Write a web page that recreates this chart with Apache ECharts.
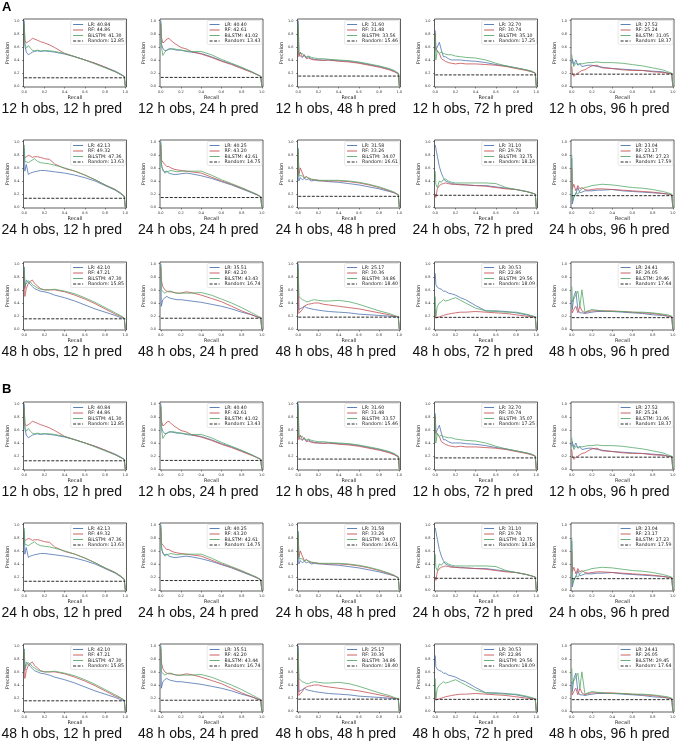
<!DOCTYPE html>
<html>
<head>
<meta charset="utf-8">
<script src="https://cdn.jsdelivr.net/npm/echarts@6/dist/echarts.min.js"></script>
<style>
  html, body { margin: 0; padding: 0; background: #fff; }
  #chart { width: 680px; height: 746px; }
</style>
</head>
<body>
<div id="chart"></div>
<script>
// recall points shared by every curve (last two: end of curve and drop to 0)
var recall = [0, 0.005, 0.02, 0.04, 0.06, 0.08, 0.1, 0.13, 0.16, 0.2, 0.25, 0.3, 0.4, 0.5, 0.6, 0.7, 0.8, 0.9, 0.95, 0.99, 1, 1];
var ticks = [0, 0.2, 0.4, 0.6, 0.8, 1.0];
var obsLabels = ['12 h obs', '24 h obs', '48 h obs'];
var predLabels = ['12 h pred', '24 h pred', '48 h pred', '72 h pred', '96 h pred'];

// precision values, one array per prediction window (12, 24, 48, 72, 96 h)
var lr12 = [
  [1.0, 0.62, 0.52, 0.48, 0.50, 0.52, 0.53, 0.54, 0.53, 0.54, 0.53, 0.52, 0.49, 0.45, 0.40, 0.35, 0.29, 0.23, 0.19, 0.15, 0.13, 0],
  [1.0, 0.65, 0.58, 0.54, 0.55, 0.57, 0.57, 0.56, 0.55, 0.55, 0.53, 0.52, 0.50, 0.45, 0.39, 0.34, 0.28, 0.22, 0.18, 0.15, 0.13, 0],
  [1.0, 0.48, 0.50, 0.44, 0.47, 0.43, 0.45, 0.42, 0.41, 0.40, 0.40, 0.40, 0.39, 0.38, 0.36, 0.33, 0.30, 0.26, 0.23, 0.19, 0.16, 0],
  [0.85, 0.55, 0.60, 0.67, 0.55, 0.45, 0.45, 0.42, 0.40, 0.40, 0.40, 0.39, 0.38, 0.36, 0.33, 0.31, 0.28, 0.25, 0.23, 0.20, 0.18, 0],
  [0.35, 0.42, 0.33, 0.40, 0.32, 0.34, 0.30, 0.31, 0.32, 0.32, 0.30, 0.29, 0.27, 0.26, 0.25, 0.24, 0.23, 0.22, 0.20, 0.19, 0.18, 0]
];
var rf12 = [
  [0.93, 0.70, 0.66, 0.68, 0.70, 0.73, 0.72, 0.70, 0.68, 0.66, 0.63, 0.59, 0.50, 0.45, 0.40, 0.35, 0.29, 0.22, 0.18, 0.15, 0.13, 0],
  [0.95, 0.75, 0.66, 0.68, 0.72, 0.73, 0.70, 0.66, 0.63, 0.59, 0.57, 0.53, 0.49, 0.44, 0.38, 0.33, 0.27, 0.21, 0.18, 0.15, 0.13, 0],
  [0.90, 0.45, 0.52, 0.45, 0.48, 0.42, 0.43, 0.41, 0.40, 0.40, 0.39, 0.40, 0.38, 0.37, 0.35, 0.32, 0.29, 0.25, 0.22, 0.19, 0.16, 0],
  [0.80, 0.55, 0.58, 0.50, 0.42, 0.40, 0.38, 0.36, 0.35, 0.34, 0.35, 0.34, 0.34, 0.33, 0.32, 0.30, 0.27, 0.24, 0.22, 0.20, 0.18, 0],
  [0.30, 0.20, 0.15, 0.18, 0.20, 0.22, 0.24, 0.25, 0.28, 0.31, 0.32, 0.28, 0.27, 0.25, 0.24, 0.24, 0.22, 0.21, 0.20, 0.19, 0.18, 0]
];
var bi12 = [
  [0.95, 0.65, 0.58, 0.62, 0.58, 0.55, 0.54, 0.55, 0.54, 0.54, 0.54, 0.53, 0.50, 0.45, 0.40, 0.34, 0.28, 0.22, 0.18, 0.15, 0.13, 0],
  [0.97, 0.62, 0.47, 0.52, 0.55, 0.56, 0.57, 0.57, 0.56, 0.55, 0.54, 0.53, 0.53, 0.48, 0.41, 0.35, 0.29, 0.22, 0.18, 0.15, 0.13, 0],
  [0.95, 0.50, 0.47, 0.50, 0.46, 0.45, 0.46, 0.44, 0.43, 0.42, 0.42, 0.41, 0.40, 0.39, 0.37, 0.34, 0.31, 0.27, 0.24, 0.20, 0.16, 0],
  [0.80, 0.40, 0.55, 0.50, 0.52, 0.50, 0.49, 0.48, 0.48, 0.46, 0.45, 0.44, 0.43, 0.40, 0.35, 0.31, 0.28, 0.25, 0.23, 0.20, 0.18, 0],
  [0.48, 0.38, 0.30, 0.35, 0.33, 0.35, 0.34, 0.35, 0.36, 0.36, 0.37, 0.36, 0.36, 0.35, 0.33, 0.31, 0.28, 0.25, 0.22, 0.20, 0.18, 0]
];
var lr24 = [
  [0.90, 0.55, 0.65, 0.50, 0.52, 0.53, 0.54, 0.55, 0.56, 0.56, 0.55, 0.54, 0.52, 0.49, 0.45, 0.40, 0.33, 0.26, 0.21, 0.16, 0.14, 0],
  [1.0, 0.68, 0.56, 0.54, 0.55, 0.52, 0.51, 0.50, 0.50, 0.51, 0.52, 0.51, 0.48, 0.44, 0.39, 0.34, 0.28, 0.22, 0.19, 0.16, 0.15, 0],
  [0.90, 0.40, 0.45, 0.42, 0.44, 0.42, 0.43, 0.40, 0.41, 0.40, 0.40, 0.39, 0.38, 0.36, 0.34, 0.31, 0.28, 0.24, 0.22, 0.19, 0.17, 0],
  [0.95, 0.90, 0.78, 0.62, 0.52, 0.45, 0.40, 0.38, 0.36, 0.35, 0.35, 0.34, 0.33, 0.33, 0.31, 0.29, 0.27, 0.24, 0.22, 0.20, 0.18, 0],
  [0.75, 0.05, 0.15, 0.20, 0.30, 0.22, 0.23, 0.25, 0.25, 0.25, 0.26, 0.26, 0.27, 0.25, 0.24, 0.23, 0.22, 0.21, 0.20, 0.19, 0.18, 0]
];
var rf24 = [
  [0.75, 0.78, 0.77, 0.79, 0.78, 0.76, 0.77, 0.77, 0.76, 0.74, 0.73, 0.66, 0.59, 0.55, 0.49, 0.42, 0.34, 0.27, 0.22, 0.17, 0.14, 0],
  [0.95, 0.72, 0.70, 0.65, 0.62, 0.62, 0.60, 0.58, 0.57, 0.56, 0.55, 0.54, 0.52, 0.46, 0.40, 0.35, 0.29, 0.23, 0.19, 0.16, 0.15, 0],
  [0.85, 0.50, 0.60, 0.52, 0.45, 0.47, 0.44, 0.42, 0.42, 0.41, 0.40, 0.40, 0.40, 0.39, 0.37, 0.34, 0.30, 0.25, 0.22, 0.19, 0.17, 0],
  [0.20, 0.15, 0.28, 0.33, 0.35, 0.36, 0.37, 0.36, 0.35, 0.35, 0.34, 0.34, 0.33, 0.32, 0.30, 0.28, 0.27, 0.24, 0.22, 0.20, 0.18, 0],
  [0.60, 0.28, 0.35, 0.25, 0.33, 0.28, 0.30, 0.27, 0.26, 0.27, 0.28, 0.28, 0.27, 0.26, 0.25, 0.24, 0.23, 0.21, 0.20, 0.19, 0.18, 0]
];
var bi24 = [
  [0.95, 0.70, 0.72, 0.68, 0.70, 0.72, 0.74, 0.70, 0.68, 0.67, 0.66, 0.64, 0.60, 0.55, 0.49, 0.42, 0.34, 0.27, 0.22, 0.17, 0.14, 0],
  [0.98, 0.62, 0.58, 0.52, 0.54, 0.55, 0.56, 0.55, 0.54, 0.55, 0.55, 0.55, 0.55, 0.49, 0.42, 0.36, 0.30, 0.23, 0.20, 0.16, 0.15, 0],
  [0.88, 0.48, 0.45, 0.48, 0.44, 0.46, 0.45, 0.43, 0.42, 0.41, 0.41, 0.41, 0.41, 0.40, 0.38, 0.35, 0.31, 0.26, 0.23, 0.19, 0.17, 0],
  [0.55, 0.35, 0.30, 0.40, 0.38, 0.42, 0.43, 0.40, 0.38, 0.37, 0.37, 0.37, 0.37, 0.37, 0.36, 0.30, 0.27, 0.24, 0.22, 0.20, 0.18, 0],
  [0.80, 0.10, 0.15, 0.22, 0.20, 0.25, 0.28, 0.30, 0.31, 0.33, 0.34, 0.35, 0.34, 0.32, 0.30, 0.29, 0.27, 0.24, 0.22, 0.20, 0.18, 0]
];
var lr48 = [
  [0.95, 0.62, 0.75, 0.72, 0.68, 0.65, 0.62, 0.60, 0.58, 0.57, 0.55, 0.52, 0.48, 0.43, 0.37, 0.31, 0.26, 0.21, 0.18, 0.16, 0.16, 0],
  [1.0, 0.35, 0.45, 0.48, 0.50, 0.48, 0.47, 0.46, 0.45, 0.45, 0.44, 0.43, 0.41, 0.38, 0.35, 0.31, 0.26, 0.22, 0.19, 0.17, 0.17, 0],
  [1.0, 0.30, 0.28, 0.33, 0.35, 0.33, 0.32, 0.31, 0.30, 0.29, 0.28, 0.27, 0.26, 0.25, 0.23, 0.22, 0.21, 0.20, 0.19, 0.19, 0.18, 0],
  [0.85, 0.68, 0.64, 0.62, 0.61, 0.58, 0.58, 0.55, 0.54, 0.52, 0.48, 0.45, 0.36, 0.28, 0.28, 0.27, 0.25, 0.22, 0.20, 0.19, 0.18, 0],
  [0.45, 0.30, 0.50, 0.58, 0.30, 0.25, 0.25, 0.24, 0.25, 0.26, 0.27, 0.27, 0.27, 0.26, 0.25, 0.24, 0.22, 0.21, 0.20, 0.19, 0.18, 0]
];
var rf48 = [
  [0.90, 0.50, 0.62, 0.70, 0.73, 0.75, 0.70, 0.66, 0.62, 0.60, 0.60, 0.60, 0.57, 0.52, 0.46, 0.39, 0.31, 0.23, 0.20, 0.17, 0.16, 0],
  [0.95, 0.75, 0.65, 0.60, 0.58, 0.57, 0.57, 0.56, 0.55, 0.55, 0.57, 0.56, 0.52, 0.47, 0.42, 0.35, 0.28, 0.22, 0.19, 0.17, 0.17, 0],
  [0.90, 0.24, 0.22, 0.30, 0.35, 0.37, 0.38, 0.39, 0.40, 0.40, 0.38, 0.37, 0.35, 0.33, 0.31, 0.28, 0.25, 0.22, 0.20, 0.19, 0.18, 0],
  [0.30, 0.17, 0.18, 0.19, 0.20, 0.21, 0.22, 0.23, 0.24, 0.25, 0.26, 0.26, 0.27, 0.26, 0.25, 0.24, 0.22, 0.20, 0.19, 0.18, 0.18, 0],
  [0.30, 0.25, 0.30, 0.35, 0.25, 0.35, 0.28, 0.25, 0.27, 0.28, 0.28, 0.28, 0.28, 0.27, 0.26, 0.25, 0.24, 0.22, 0.20, 0.19, 0.18, 0]
];
var bi48 = [
  [0.95, 0.66, 0.68, 0.74, 0.72, 0.68, 0.66, 0.63, 0.61, 0.60, 0.60, 0.61, 0.58, 0.54, 0.48, 0.41, 0.33, 0.25, 0.21, 0.17, 0.16, 0],
  [0.98, 0.60, 0.58, 0.55, 0.57, 0.58, 0.58, 0.56, 0.55, 0.55, 0.55, 0.55, 0.56, 0.52, 0.46, 0.40, 0.33, 0.25, 0.21, 0.18, 0.17, 0],
  [0.95, 0.50, 0.48, 0.45, 0.44, 0.42, 0.42, 0.44, 0.45, 0.44, 0.43, 0.43, 0.44, 0.42, 0.38, 0.33, 0.28, 0.24, 0.21, 0.19, 0.18, 0],
  [0.50, 0.20, 0.35, 0.40, 0.42, 0.45, 0.43, 0.44, 0.46, 0.48, 0.44, 0.40, 0.32, 0.28, 0.27, 0.26, 0.26, 0.23, 0.21, 0.19, 0.18, 0],
  [0.65, 0.42, 0.45, 0.52, 0.58, 0.35, 0.60, 0.26, 0.28, 0.30, 0.29, 0.28, 0.27, 0.27, 0.26, 0.26, 0.25, 0.23, 0.22, 0.20, 0.18, 0]
];

// average precision shown in the legends (rows: 12/24/48 h obs)
var lrApA = [[40.84, 40.40, 31.60, 32.70, 27.52], [42.13, 40.25, 31.58, 31.10, 23.04], [42.10, 35.51, 25.17, 30.53, 24.41]];
var rfApA = [[44.86, 42.61, 31.48, 30.74, 25.24], [49.32, 43.20, 33.26, 29.78, 23.17], [47.21, 42.20, 30.36, 22.86, 26.05]];
var biApA = [[41.30, 41.02, 33.56, 35.10, 31.05], [47.36, 42.61, 34.07, 32.75, 27.23], [47.30, 43.43, 34.86, 29.56, 29.46]];
var lrApB = [[40.84, 40.40, 31.60, 32.70, 27.52], [42.13, 40.25, 31.58, 31.10, 23.04], [42.10, 35.51, 25.17, 30.53, 24.41]];
var rfApB = [[44.86, 42.61, 31.48, 30.74, 25.24], [49.32, 43.20, 33.26, 29.78, 23.17], [47.21, 42.20, 30.36, 22.86, 26.05]];
var biApB = [[41.30, 41.02, 33.57, 35.07, 31.06], [47.36, 42.61, 34.07, 32.75, 27.23], [47.30, 43.44, 34.86, 29.56, 29.45]];
var randomAp = [[12.85, 13.43, 15.46, 17.25, 18.37], [13.63, 14.75, 16.61, 18.18, 17.59], [15.85, 16.74, 18.40, 18.09, 17.64]];

var myChart = echarts.init(document.getElementById('chart'));

var colLeft = [23.5, 160, 297.5, 434.5, 571];
var rowTop = [19, 140, 262, 402, 523, 644];
var W = 103, H = 68;
var colors = ['#4C72B0', '#C44E52', '#55A868'];
var mplFont = 'DejaVu Sans';

var lrByObs = [lr12, lr24, lr48];
var rfByObs = [rf12, rf24, rf48];
var biByObs = [bi12, bi24, bi48];
var sections = [
  { lr: lrApA, rf: rfApA, bi: biApA },
  { lr: lrApB, rf: rfApB, bi: biApB }
];

var grids = [], xAxes = [], yAxes = [], series = [], legends = [], titles = [];

function toPoints(prec) {
  return recall.map(function (r, k) { return [r, prec[k]]; });
}

sections.forEach(function (sec, s) {
  for (var r = 0; r < 3; r++) {
    for (var c = 0; c < 5; c++) {
      var idx = grids.length;
      var left = colLeft[c], top = rowTop[s * 3 + r];
      grids.push({
        left: left, top: top, width: W, height: H,
        show: true, borderColor: '#1a1a1a', borderWidth: 0.7
      });
      xAxes.push({
        type: 'value', gridIndex: idx, min: -0.008, max: 1.012,
        name: 'Recall', nameLocation: 'middle', nameGap: 8,
        nameTextStyle: { fontSize: 5, fontFamily: mplFont, color: '#222' },
        axisLine: { show: false, onZero: false },
        splitLine: { show: false },
        axisTick: { show: true, length: 1.5, customValues: ticks, lineStyle: { color: '#222', width: 0.5 } },
        axisLabel: { customValues: ticks, fontSize: 3.5, margin: 3, color: '#333', fontFamily: mplFont,
          formatter: function (v) { return v.toFixed(1); } }
      });
      yAxes.push({
        type: 'value', gridIndex: idx, min: -0.012, max: 1.025,
        name: 'Precision', nameLocation: 'middle', nameGap: 13,
        nameTextStyle: { fontSize: 5, fontFamily: mplFont, color: '#222' },
        axisLine: { show: false, onZero: false },
        splitLine: { show: false },
        axisTick: { show: true, length: 1.5, customValues: ticks, lineStyle: { color: '#222', width: 0.5 } },
        axisLabel: { customValues: ticks, fontSize: 3.5, margin: 4, color: '#333', fontFamily: mplFont,
          formatter: function (v) { return v.toFixed(1); } }
      });

      var names = [
        'LR: ' + sec.lr[r][c].toFixed(2),
        'RF: ' + sec.rf[r][c].toFixed(2),
        'BiLSTM: ' + sec.bi[r][c].toFixed(2),
        'Random: ' + randomAp[r][c].toFixed(2)
      ];
      var curves = [lrByObs[r][c], rfByObs[r][c], biByObs[r][c]];
      curves.forEach(function (prec, m) {
        series.push({
          type: 'line', name: names[m], xAxisIndex: idx, yAxisIndex: idx,
          data: toPoints(prec), symbol: 'none', silent: true,
          lineStyle: { color: colors[m], width: 0.8 },
          itemStyle: { color: colors[m] }
        });
      });
      var base = randomAp[r][c] / 100;
      series.push({
        type: 'line', name: names[3], xAxisIndex: idx, yAxisIndex: idx,
        data: [[0, base], [1, base]], symbol: 'none', silent: true,
        lineStyle: { color: '#111', width: 0.9, type: [3, 1.5] },
        itemStyle: { color: '#111' }
      });

      legends.push({
        orient: 'vertical', right: 680 - (left + W) + 1, top: top + 1.5,
        data: names, selectedMode: false,
        itemWidth: 10, itemHeight: 4, itemGap: 0.5,
        itemStyle: { opacity: 0 },
        lineStyle: { width: 0.9 },
        padding: [1.5, 1.5, 1, 2],
        borderColor: '#cfcfcf', borderWidth: 0.5, borderRadius: 1.5,
        backgroundColor: 'rgba(255,255,255,0.85)',
        textStyle: { fontSize: 4.7, lineHeight: 5, fontFamily: mplFont, color: '#222' }
      });

      titles.push({
        text: obsLabels[r] + ', ' + predLabels[c],
        left: left - 22, top: top + 83, padding: 0,
        textStyle: { fontSize: 14, fontWeight: 'normal', fontFamily: 'Liberation Sans, Arial', color: '#111' }
      });
    }
  }
});

var option = {
  animation: false,
  backgroundColor: '#fff',
  title: titles,
  legend: legends,
  grid: grids,
  xAxis: xAxes,
  yAxis: yAxes,
  series: series,
  graphic: [
    { type: 'text', left: 2, top: 1, style: { text: 'A', fontSize: 13, fontWeight: 'bold', fontFamily: 'Liberation Sans, Arial', fill: '#000' } },
    { type: 'text', left: 2, top: 383, style: { text: 'B', fontSize: 13, fontWeight: 'bold', fontFamily: 'Liberation Sans, Arial', fill: '#000' } }
  ]
};

myChart.setOption(option);
</script>
</body>
</html>
